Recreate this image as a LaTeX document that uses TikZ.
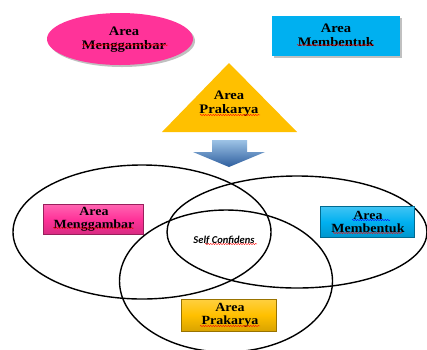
\documentclass[tikz,border=0pt]{standalone}
\usepackage{fontspec}
\setmainfont{Liberation Serif}
\newfontfamily\labfont[FakeStretch=1.12]{Liberation Serif}
\newfontfamily\calib{Carlito}
\usetikzlibrary{shapes.geometric,shadows,decorations.pathmorphing}
\definecolor{pinkA}{HTML}{FF3399}
\definecolor{cyanA}{HTML}{00B0F0}
\definecolor{goldA}{HTML}{FFC000}
\definecolor{arrowTop}{HTML}{9DC3E6}
\definecolor{arrowBot}{HTML}{2E5E9E}
\tikzset{
  toplab/.style={font=\labfont\bfseries\fontsize{13}{14}\selectfont, align=center, text=black},
  lowlab/.style={font=\labfont\bfseries\fontsize{12.5}{12.5}\selectfont, align=center, text=black},
  shad/.style={drop shadow={shadow xshift=2pt, shadow yshift=-2pt, fill=black!35, opacity=0.7}},
  venn/.style={draw=black, line width=1.4pt},
  bevel/.style={draw=#1!60!black, line width=0.4pt, top color=#1!75!white, bottom color=#1!85!black, middle color=#1},
  squig/.style={draw=red, line width=0.4pt, decorate, decoration={snake, amplitude=0.6pt, segment length=2.5pt}},
  squigb/.style={squig, draw=blue}
}
\begin{document}
\begin{tikzpicture}[x=1pt,y=-1pt]
\useasboundingbox (0,0) rectangle (427,349);
\fill[white] (0,0) rectangle (427,349);

% top row
\node[ellipse, fill=pinkA, minimum width=146pt, minimum height=52pt, inner sep=0pt, shad] (pe) at (120,39) {};
\node[toplab] (pet) at (124,40) {Area\\Menggambar};
\node[rectangle, fill=cyanA, minimum width=128pt, minimum height=40pt, inner sep=0pt, shad] (cr) at (336,36) {};
\node[toplab] (crt) at (336,35) {Area\\Membentuk};
\coordinate (ta) at (229,63);
\coordinate (tl) at (162,132);
\coordinate (tr) at (297,132);
\fill[goldA] (ta) -- (tr) -- (tl) -- cycle;
\node[toplab] (tt) at (229,104) {Area\\Prakarya};
\path[squig] (82,45) -- (168,45);
\path[squig] (297,45) -- (374,45);
\path[squig] (200,115) -- (260,115);

% arrow
\coordinate (a1) at (212,140);
\coordinate (a2) at (247,140);
\coordinate (a3) at (247,152);
\coordinate (a4) at (265,152);
\coordinate (a5) at (229,167);
\coordinate (a6) at (193,152);
\coordinate (a7) at (212,152);
\shade[top color=arrowTop, bottom color=arrowBot] (a1) -- (a2) -- (a3) -- (a4) -- (a5) -- (a6) -- (a7) -- cycle;

% venn
\node[venn, ellipse, minimum width=258pt, minimum height=134pt] (vl) at (142,232) {};
\node[venn, ellipse, minimum width=260pt, minimum height=112pt] (vr) at (297,232) {};
\node[venn, ellipse, minimum width=213pt, minimum height=142pt] (vb) at (226,281) {};

% lower boxes
\node[bevel=pinkA, minimum width=100pt, minimum height=30pt, inner sep=0pt] (lp) at (93,219) {};
\node[lowlab] (lpt) at (94,219) {Area\\Menggambar};
\node[bevel=cyanA, minimum width=94pt, minimum height=31pt, inner sep=0pt] (lc) at (367,222) {};
\node[lowlab] (lct) at (368,222) {Area\\Membentuk};
\node[bevel=goldA, minimum width=95pt, minimum height=32pt, inner sep=0pt] (ly) at (229,315) {};
\node[lowlab] (lyt) at (230,315) {Area\\Prakarya};
\node[font=\calib\bfseries\itshape\fontsize{10.5}{11}\selectfont] (sc) at (224,240) {Self Confidens};

\path[squig] (53,228) -- (134,228);
\path[squigb] (352,220) -- (390,220);
\path[squig] (333,233) -- (403,233);
\path[squig] (205,244) -- (257,244);
\path[squig] (200,326) -- (260,326);
\end{tikzpicture}
\end{document}
